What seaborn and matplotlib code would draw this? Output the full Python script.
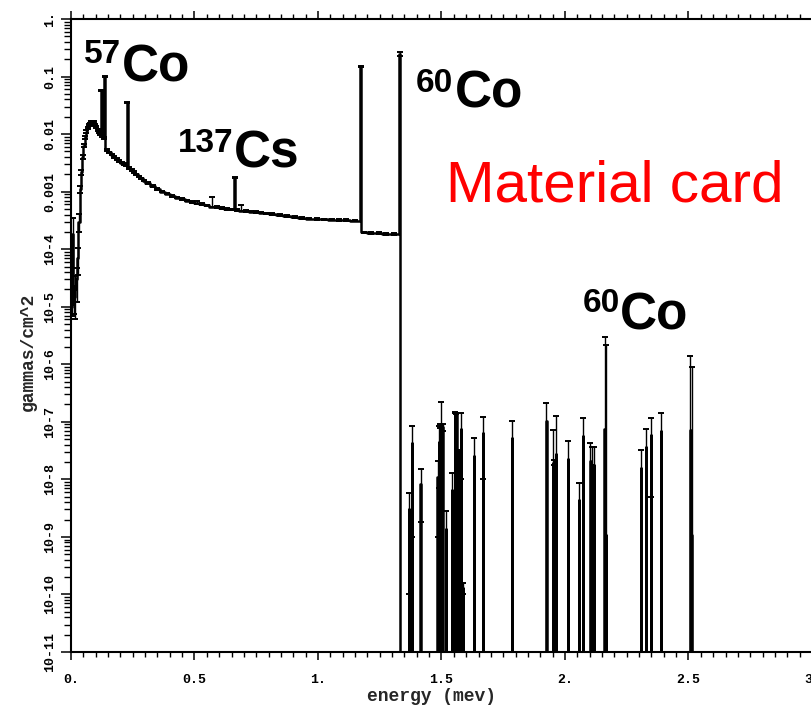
import numpy as np
import pandas as pd
import matplotlib
matplotlib.use("Agg")
import matplotlib.pyplot as plt
import seaborn as sns
from matplotlib.ticker import LogLocator, MultipleLocator, NullFormatter

# Photon flux tally, continuum part: bin left edge (MeV), flux,
# relative error above and below the bin value
cont_lo = [0.000, 0.005, 0.010, 0.015, 0.020, 0.025, 0.030, 0.035, 0.040, 0.045,
           0.050, 0.055, 0.060, 0.065, 0.070, 0.075, 0.080, 0.085, 0.090, 0.095,
           0.100, 0.105, 0.110, 0.115, 0.120, 0.124, 0.130, 0.134, 0.138, 0.150,
           0.160, 0.170, 0.180, 0.190, 0.200, 0.210, 0.220, 0.226, 0.230, 0.240,
           0.250, 0.260, 0.270, 0.280, 0.290, 0.300, 0.320, 0.340, 0.360, 0.380,
           0.400, 0.420, 0.440, 0.460, 0.480, 0.500, 0.520, 0.540, 0.560, 0.580,
           0.600, 0.620, 0.640, 0.660, 0.664, 0.680, 0.700, 0.720, 0.740, 0.760,
           0.780, 0.800, 0.830, 0.860, 0.890, 0.920, 0.950, 0.980, 1.010, 1.040,
           1.070, 1.100, 1.130, 1.170, 1.176, 1.200, 1.230, 1.260, 1.290, 1.328]
cont_flux = [1.0e-5, 1.8e-4, 1.5e-5, 2.0e-5, 3.0e-5, 7.0e-5, 3.0e-4, 1.1e-3, 2.2e-3, 4.0e-3,
             6.3e-3, 8.8e-3, 1.10e-2, 1.28e-2, 1.42e-2, 1.52e-2, 1.60e-2, 1.65e-2, 1.60e-2, 1.46e-2,
             1.32e-2, 1.20e-2, 1.10e-2, 1.00e-2, 5.8e-2, 9.2e-3, 8.6e-3, 9.9e-2, 5.3e-3, 4.8e-3,
             4.4e-3, 4.0e-3, 3.7e-3, 3.4e-3, 3.2e-3, 3.0e-3, 2.9e-3, 3.6e-2, 2.6e-3, 2.4e-3,
             2.2e-3, 2.0e-3, 1.85e-3, 1.7e-3, 1.55e-3, 1.40e-3, 1.25e-3, 1.12e-3, 1.00e-3, 9.2e-4,
             8.4e-4, 7.9e-4, 7.4e-4, 7.0e-4, 6.6e-4, 6.3e-4, 6.1e-4, 5.8e-4, 5.5e-4, 5.4e-4,
             5.2e-4, 5.0e-4, 4.9e-4, 1.75e-3, 4.8e-4, 4.7e-4, 4.6e-4, 4.5e-4, 4.4e-4, 4.3e-4,
             4.2e-4, 4.05e-4, 3.9e-4, 3.75e-4, 3.6e-4, 3.5e-4, 3.4e-4, 3.35e-4, 3.3e-4, 3.25e-4,
             3.2e-4, 3.2e-4, 3.15e-4, 0.152, 1.95e-4, 1.9e-4, 1.9e-4, 1.85e-4, 1.85e-4, 0.25]
cont_rel_up = [0.30, 0.94, 0.50, 0.70, 0.60, 0.50, 0.35, 0.15, 0.10, 0.08,
               0.06, 0.05, 0.05, 0.04, 0.04, 0.04, 0.04, 0.04, 0.04, 0.04,
               0.04, 0.04, 0.04, 0.04, 0.02, 0.04, 0.05, 0.02, 0.03, 0.03,
               0.03, 0.03, 0.03, 0.03, 0.03, 0.03, 0.03, 0.02, 0.03, 0.03,
               0.03, 0.03, 0.03, 0.03, 0.03, 0.03, 0.03, 0.03, 0.03, 0.03,
               0.03, 0.03, 0.03, 0.03, 0.03, 0.07, 0.03, 0.03, 0.45, 0.03,
               0.03, 0.03, 0.03, 0.03, 0.03, 0.25, 0.03, 0.03, 0.03, 0.03,
               0.03, 0.03, 0.03, 0.03, 0.03, 0.03, 0.03, 0.03, 0.03, 0.03,
               0.03, 0.03, 0.03, 0.02, 0.03, 0.03, 0.03, 0.03, 0.03, 0.08]
cont_rel_lo = [0.30, 0.94, 0.50, 0.70, 0.60, 0.50, 0.35, 0.15, 0.10, 0.08,
               0.06, 0.05, 0.05, 0.04, 0.04, 0.04, 0.04, 0.04, 0.04, 0.04,
               0.04, 0.04, 0.04, 0.04, 0.02, 0.04, 0.05, 0.02, 0.03, 0.03,
               0.03, 0.03, 0.03, 0.03, 0.03, 0.03, 0.03, 0.02, 0.03, 0.03,
               0.03, 0.03, 0.03, 0.03, 0.03, 0.03, 0.03, 0.03, 0.03, 0.03,
               0.03, 0.03, 0.03, 0.03, 0.03, 0.03, 0.03, 0.03, 0.03, 0.03,
               0.03, 0.03, 0.03, 0.03, 0.03, 0.03, 0.03, 0.03, 0.03, 0.03,
               0.03, 0.03, 0.03, 0.03, 0.03, 0.03, 0.03, 0.03, 0.03, 0.03,
               0.03, 0.03, 0.03, 0.02, 0.03, 0.03, 0.03, 0.03, 0.03, 0.08]
cont_end = 1.334

# Isolated non-empty bins above 1.33 MeV: energy (MeV), flux, absolute error
line_e = [1.368, 1.381, 1.416, 1.485, 1.490, 1.495, 1.500, 1.505, 1.518, 1.543,
          1.555, 1.560, 1.570, 1.579, 1.587, 1.632, 1.668, 1.785, 1.925, 1.951,
          1.957, 1.964, 2.012, 2.057, 2.073, 2.103, 2.110, 2.117, 2.160, 2.166,
          2.308, 2.328, 2.348, 2.389, 2.508, 2.513]
line_flux = [3.0e-9, 4.2e-8, 8.4e-9, 1.1e-8, 4.5e-8, 8.5e-8, 9.0e-8, 8.0e-8, 1.4e-9, 6.5e-9,
             1.45e-7, 1.4e-7, 3.0e-8, 7.5e-8, 1.3e-10, 2.5e-8, 6.5e-8, 5.2e-8, 1.05e-7, 1.95e-8,
             1.95e-8, 2.8e-8, 2.3e-8, 4.4e-9, 5.7e-8, 2.1e-8, 1.8e-8, 1.8e-8, 7.6e-8, 1.1e-9,
             1.6e-8, 3.7e-8, 6.0e-8, 7.0e-8, 7.3e-8, 1.1e-9]
line_err = [2.9e-9, 4.1e-8, 6.6e-9, 1.0e-8, 3.8e-8, 8.0e-9, 1.3e-7, 1.0e-8, 1.4e-9, 6.5e-9,
            5.0e-9, 5.0e-9, 2.0e-9, 6.5e-8, 3.0e-11, 2.8e-8, 5.5e-8, 5.3e-8, 1.05e-7, 5.4e-8,
            2.0e-9, 1.0e-7, 2.4e-8, 4.4e-9, 5.8e-8, 2.1e-8, 1.8e-8, 1.8e-8, 2.9e-6, 2.2e-6,
            1.6e-8, 3.9e-8, 5.5e-8, 7.0e-8, 1.33e-6, 9.1e-7]

x_ticks = [0.0, 0.5, 1.0, 1.5, 2.0, 2.5, 3.0]
x_tick_labels = ["0.", "0.5", "1.", "1.5", "2.", "2.5", "3"]
y_ticks = [1e-11, 1e-10, 1e-9, 1e-8, 1e-7, 1e-6, 1e-5, 1e-4, 1e-3, 1e-2, 1e-1, 1.0]
y_tick_labels = ["10-11", "10-10", "10-9", "10-8", "10-7", "10-6", "10-5", "10-4",
                 "0.001", "0.01", "0.1", "1."]

sns.set_theme(style="ticks")
plt.rcParams["font.family"] = ["Liberation Mono", "DejaVu Sans Mono"]
plt.rcParams["axes.edgecolor"] = "black"
plt.rcParams["xtick.color"] = "black"
plt.rcParams["ytick.color"] = "black"

fig = plt.figure(figsize=(8.12, 7.10), dpi=100)
ax = fig.add_axes([71 / 812, 58 / 710, 741 / 812, 633 / 710])

# Histogram outline (steps), empty bins drop to zero
half_w = 0.0015
step_x = list(cont_lo) + [cont_end]
step_y = list(cont_flux) + [0.0]
for e, f in zip(line_e, line_flux):
    step_x += [e - half_w, e + half_w]
    step_y += [f, 0.0]
step_x.append(3.0)
step_y.append(0.0)
hist_df = pd.DataFrame({"energy": step_x, "flux": step_y})
sns.lineplot(data=hist_df, x="energy", y="flux", drawstyle="steps-post",
             estimator=None, sort=False, color="black", lw=1.8, ax=ax)

# Statistical error bars at bin centres
cont_hi = list(cont_lo[1:]) + [cont_end]
cont_mid = (np.array(cont_lo) + np.array(cont_hi)) / 2
flux_arr = np.array(cont_flux)
cont_err = [flux_arr * np.array(cont_rel_lo), flux_arr * np.array(cont_rel_up)]
err_style = dict(fmt="none", ecolor="black", elinewidth=1.0, capsize=2.4, capthick=1.4)
ax.errorbar(cont_mid, cont_flux, yerr=cont_err, **err_style)
ax.errorbar(line_e, line_flux, yerr=line_err, **err_style)

ax.set_yscale("log")
ax.set_xlim(0, 3)
ax.set_ylim(1e-11, 1)

ax.set_xticks(x_ticks, x_tick_labels)
ax.xaxis.set_minor_locator(MultipleLocator(0.05))
ax.set_yticks(y_ticks, y_tick_labels)
ax.yaxis.set_minor_locator(LogLocator(base=10, subs=np.arange(2, 10), numticks=100))
ax.yaxis.set_minor_formatter(NullFormatter())

ax.tick_params(axis="x", which="both", direction="out", top=True, bottom=True)
ax.tick_params(axis="x", which="major", length=6, width=1.1, pad=10,
               labelsize=9.5)
ax.tick_params(axis="x", which="minor", length=3.8, width=1.0)
ax.tick_params(axis="y", which="both", direction="out", left=True, right=False)
ax.tick_params(axis="y", which="major", length=7.2, width=1.1, pad=3.5,
               labelsize=9.5, labelrotation=90)
ax.tick_params(axis="y", which="minor", length=5.2, width=1.0)
for lab in ax.get_xticklabels() + ax.get_yticklabels():
    lab.set_fontweight("bold")
for lab in ax.get_yticklabels():
    lab.set_verticalalignment("center")
# the last energy label sits at the right edge of the frame
ax.get_xticklabels()[-1].set_horizontalalignment("right")

for side in ["left", "bottom", "top"]:
    ax.spines[side].set_linewidth(1.5)
ax.spines["right"].set_visible(False)

ax.set_xlabel("energy (mev)", fontsize=13, fontweight="bold")
ax.set_ylabel("gammas/cm^2", fontsize=13, fontweight="bold")
ax.xaxis.set_label_coords(0.486, -0.071)
ax.xaxis.label.set_verticalalignment("center")
ax.yaxis.set_label_coords(-0.058, 0.474)
ax.yaxis.label.set_verticalalignment("center")

# Isotope annotations
def px(x, y):
    return x / 812, 1 - y / 710

iso_font = dict(family=["Liberation Sans", "DejaVu Sans"], fontweight="bold",
                va="baseline", ha="left", color="black")
for (sx, sy, sup), (bx, by, base) in [
    ((84, 63, "57"), (122, 82, "Co")),
    ((178, 152, "137"), (234, 167, "Cs")),
    ((416, 92, "60"), (455, 107, "Co")),
    ((583, 312, "60"), (620, 329, "Co")),
]:
    fig.text(*px(sx, sy), sup, fontsize=24, **iso_font)
    fig.text(*px(bx, by), base, fontsize=37, **iso_font)

fig.text(*px(446, 201), "Material card", fontsize=42, color="#ff0000",
         family=["Liberation Sans", "DejaVu Sans"], va="baseline", ha="left")

fig.savefig("out.png", dpi=100)
